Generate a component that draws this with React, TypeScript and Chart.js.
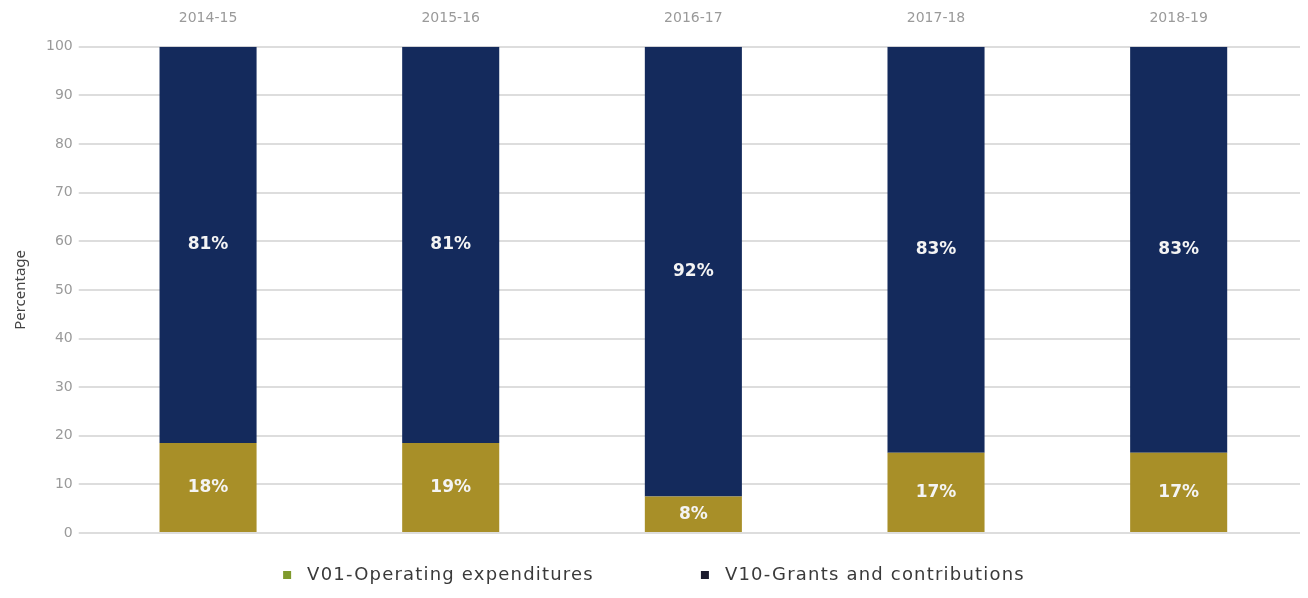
import React, { useEffect, useRef } from "react";
import { Chart, registerables } from "chart.js";

Chart.register(...registerables);

const categories = ["2014-15", "2015-16", "2016-17", "2017-18", "2018-19"];
const operatingValues = [18.5, 18.5, 7.5, 16.5, 16.5];
const grantsValues = [81.5, 81.5, 92.5, 83.5, 83.5];
const operatingLabels = ["18%", "19%", "8%", "17%", "17%"];
const grantsLabels = ["81%", "81%", "92%", "83%", "83%"];
const yTicks = [0, 10, 20, 30, 40, 50, 60, 70, 80, 90, 100];
const legendLabels = ["V01-Operating expenditures", "V10-Grants and contributions"];
const legendColors = ["#7f9a2d", "#1b1b2e"];

const labelPlugin = {
  id: "segLabels",
  afterDatasetsDraw(chart: any) {
    const ctx = chart.ctx;
    const lbls = [operatingLabels, grantsLabels];
    chart.data.datasets.forEach((ds: any, di: number) => {
      const meta = chart.getDatasetMeta(di);
      meta.data.forEach((bar: any, i: number) => {
        const p = bar.getProps(["x", "y", "base"], true);
        ctx.save();
        ctx.fillStyle = "#f4f4f4";
        ctx.font = "bold 17px 'DejaVu Sans', sans-serif";
        ctx.textAlign = "center";
        ctx.textBaseline = "middle";
        ctx.fillText(lbls[di][i], p.x, (p.y + p.base) / 2);
        ctx.restore();
      });
    });
  },
};

const legendPlugin = {
  id: "customLegend",
  afterDraw(chart: any) {
    const ctx = chart.ctx;
    ctx.save();
    ctx.font = "18px 'DejaVu Sans', sans-serif";
    (ctx as any).letterSpacing = "1.2px";
    const box = 8;
    const boxGap = 16;
    const itemGap = 107;
    const widths = legendLabels.map((t) => box + boxGap + ctx.measureText(t).width);
    const total = widths.reduce((a, b) => a + b, 0) + itemGap * (widths.length - 1);
    let x = chart.width / 2 - total / 2;
    const y = chart.height - 15;
    legendLabels.forEach((t, i) => {
      ctx.fillStyle = legendColors[i];
      ctx.fillRect(x, y - box / 2, box, box);
      ctx.fillStyle = "#3a3a3a";
      ctx.textBaseline = "middle";
      ctx.textAlign = "left";
      ctx.fillText(t, x + box + boxGap, y);
      x += widths[i] + itemGap;
    });
    ctx.restore();
  },
};

export default function App() {
  const ref = useRef<HTMLCanvasElement>(null);
  useEffect(() => {
    const chart = new Chart(ref.current!, {
      type: "bar",
      data: {
        labels: categories,
        datasets: [
          {
            label: legendLabels[0],
            data: operatingValues,
            backgroundColor: "#a88f28",
            barPercentage: 0.4,
            categoryPercentage: 1,
          },
          {
            label: legendLabels[1],
            data: grantsValues,
            backgroundColor: "#142a5c",
            barPercentage: 0.4,
            categoryPercentage: 1,
          },
        ],
      },
      options: {
        animation: false,
        responsive: true,
        maintainAspectRatio: false,
        layout: { padding: { top: -10, right: 0, bottom: 57, left: 0 } },
        plugins: {
          tooltip: { enabled: false },
          legend: { display: false },
        },
        scales: {
          x: {
            position: "top",
            stacked: true,
            grid: { display: false },
            border: { display: false },
            ticks: { color: "#9a9a9a", font: { size: 14, family: "'DejaVu Sans', sans-serif" }, padding: 12 },
          },
          y: {
            stacked: true,
            min: 0,
            max: 100,
            afterBuildTicks: (s: any) => {
              s.ticks = yTicks.map((v) => ({ value: v }));
            },
            title: {
              display: true,
              text: "Percentage",
              color: "#444444",
              font: { size: 15, family: "'Noto Sans', sans-serif" },
              padding: { bottom: 10 },
            },
            grid: { color: "#dddddd", lineWidth: 2, tickLength: 8 },
            border: { display: false },
            ticks: { color: "#9a9a9a", font: { size: 14, family: "'DejaVu Sans', sans-serif" }, padding: 6 },
          },
        },
      },
      plugins: [labelPlugin, legendPlugin],
    });
    return () => chart.destroy();
  }, []);
  return (
    <div style={{ width: 1292, height: 582 }}>
      <canvas ref={ref} />
    </div>
  );
}
